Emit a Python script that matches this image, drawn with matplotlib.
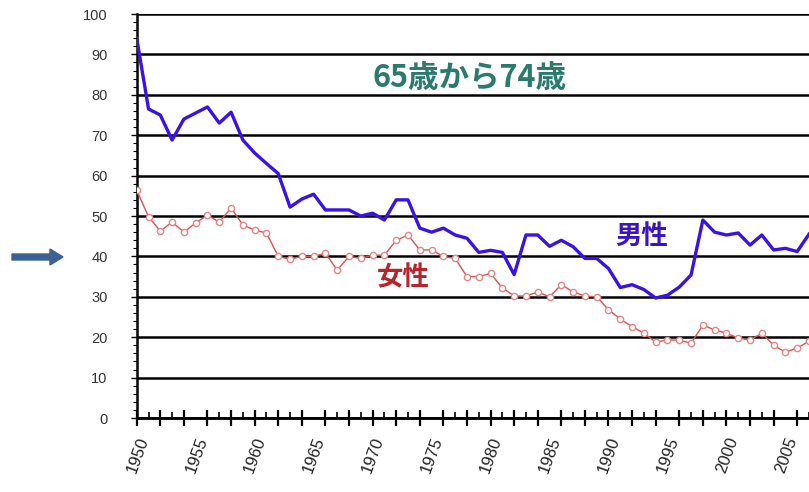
import matplotlib
matplotlib.use("Agg")
import matplotlib.pyplot as plt
import matplotlib.ticker as mticker
from matplotlib.patches import FancyArrow

# 65-74 age group rates, 1950-2007
years = list(range(1950, 2008))
male = [94, 76.5, 75, 68.8, 74, 75.5, 77, 73, 75.7, 68.8,
        65.6, 63, 60.5, 52.2, 54.2, 55.4, 51.5, 51.5, 51.5, 50,
        50.7, 49, 54, 54, 47, 46, 47, 45.3, 44.5, 41,
        41.5, 41, 35.5, 45.3, 45.3, 42.5, 44, 42.4, 39.5, 39.5,
        37, 32.3, 33, 31.8, 29.7, 30.4, 32.4, 35.4, 49, 46,
        45.3, 45.8, 42.8, 45.3, 41.6, 42, 41.2, 45.5]
female = [56.4, 49.8, 46.3, 48.5, 46, 48.3, 50.2, 48.5, 52, 47.8,
          46.5, 45.8, 40, 39.3, 40, 40, 40.8, 36.6, 40, 39.5,
          40.3, 40.3, 44, 45.3, 41.6, 41.6, 40, 39.5, 35, 35,
          35.8, 32.2, 30.2, 30.2, 31.2, 30, 33, 31.2, 30.2, 30,
          26.8, 24.5, 22.6, 21, 18.8, 19.3, 19.3, 18.5, 23, 21.8,
          21, 19.8, 19.3, 21, 18, 16.3, 17.3, 19]
y_ticks = list(range(0, 101, 10))
label_years = list(range(1950, 2007, 5))

jp_font = ["Noto Sans CJK JP", "DejaVu Sans"]
plt.rcParams["font.family"] = ["Liberation Sans", "DejaVu Sans"]

fig = plt.figure(figsize=(8.09, 4.92), dpi=100)
ax = fig.add_axes([0.169, 0.1504, 0.831, 0.8211])

ax.plot(years, male, color="#3A12E6", lw=2.4, zorder=4)
ax.plot(years, female, color="#D9534F", lw=1.0, marker="o", ms=4.5,
        mfc="white", mec="#E58585", mew=1.0, zorder=3)

ax.set_xlim(1950, 2007)
ax.set_ylim(0, 100)

# horizontal grid
ax.set_yticks(y_ticks)
ax.yaxis.set_minor_locator(mticker.MultipleLocator(2))
ax.grid(axis="y", color="black", lw=1.8, zorder=1)
ax.tick_params(axis="y", which="major", length=4, width=1, labelsize=10.5,
               labelcolor="#333333", pad=17)
ax.tick_params(axis="y", which="minor", length=3, width=0.8)

for side in ("top", "right"):
    ax.spines[side].set_visible(False)
ax.spines["left"].set_linewidth(1.8)
ax.spines["bottom"].set_linewidth(1.8)
ax.spines["bottom"].set_zorder(5)

# year labels every 5, small ticks every year
ax.set_xticks(label_years)
ax.set_xticklabels([str(y) for y in label_years], rotation=70,
                   ha="right", rotation_mode="anchor", fontsize=12,
                   color="#222222")
ax.xaxis.set_minor_locator(mticker.MultipleLocator(1))
ax.tick_params(axis="x", which="major", length=0, pad=12)
ax.tick_params(axis="x", which="minor", direction="in", length=4, width=1.2)

# tall crossing ticks every 2 years
sec = ax.secondary_xaxis(0)
sec.set_xticks(list(range(1950, 2008, 2)))
sec.tick_params(direction="inout", length=11, width=1.6, labelbottom=False)
sec.spines["bottom"].set_linewidth(1.8)

ax.text(1978.2, 84.2, "65歳から74歳", family=jp_font, fontsize=22,
        fontweight="bold", color="#2B7A6E", ha="center", va="center")
ax.text(1992.8, 45, "男性", family=jp_font, fontsize=19,
        fontweight="bold", color="#3A12C8", ha="center", va="center")
ax.text(1972.6, 34.7, "女性", family=jp_font, fontsize=19,
        fontweight="bold", color="#B8242C", ha="center", va="center")

# pointer arrow at the left margin
fig.patches.append(FancyArrow(12 / 809, 235 / 492, 38 / 809, 0,
                              width=6 / 492, head_width=16 / 492,
                              head_length=13 / 809, length_includes_head=False,
                              color="#3B6290", transform=fig.transFigure))

fig.savefig("out.png", dpi=100)
